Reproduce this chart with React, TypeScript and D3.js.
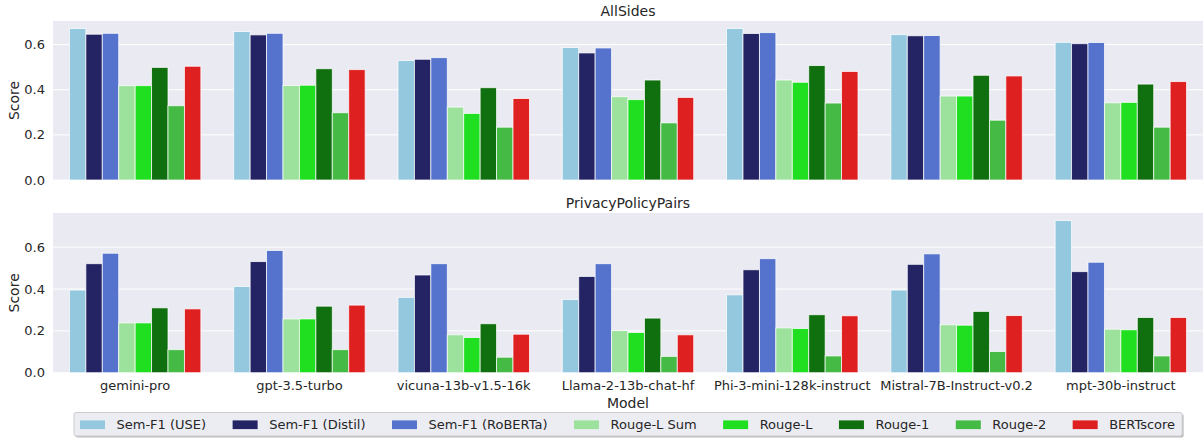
import React, { useEffect, useRef } from "react";
import * as d3 from "d3";

const WIDTH = 1203;
const HEIGHT = 439;

const models = [
  "gemini-pro",
  "gpt-3.5-turbo",
  "vicuna-13b-v1.5-16k",
  "Llama-2-13b-chat-hf",
  "Phi-3-mini-128k-instruct",
  "Mistral-7B-Instruct-v0.2",
  "mpt-30b-instruct",
];

const metrics = [
  "Sem-F1 (USE)",
  "Sem-F1 (Distil)",
  "Sem-F1 (RoBERTa)",
  "Rouge-L Sum",
  "Rouge-L",
  "Rouge-1",
  "Rouge-2",
  "BERTscore",
];

const metricColors = [
  "#93c8de",
  "#242465",
  "#5573cd",
  "#9ce29c",
  "#20df20",
  "#107010",
  "#45ba45",
  "#df2020",
];

// rows: models, columns: metrics
const allSides = [
  [0.671, 0.646, 0.65, 0.418, 0.418, 0.499, 0.329, 0.504],
  [0.658, 0.643, 0.65, 0.419, 0.42, 0.493, 0.298, 0.489],
  [0.529, 0.535, 0.542, 0.323, 0.295, 0.409, 0.234, 0.361],
  [0.587, 0.563, 0.585, 0.369, 0.356, 0.443, 0.253, 0.366],
  [0.671, 0.649, 0.653, 0.443, 0.433, 0.507, 0.341, 0.481],
  [0.644, 0.639, 0.64, 0.372, 0.372, 0.464, 0.265, 0.461],
  [0.61, 0.604, 0.609, 0.342, 0.344, 0.425, 0.234, 0.436],
];

const privacyPolicyPairs = [
  [0.395, 0.521, 0.571, 0.238, 0.238, 0.31, 0.11, 0.305],
  [0.412, 0.531, 0.584, 0.257, 0.257, 0.318, 0.11, 0.323],
  [0.36, 0.467, 0.521, 0.181, 0.168, 0.234, 0.074, 0.184],
  [0.35, 0.46, 0.521, 0.201, 0.192, 0.261, 0.078, 0.181],
  [0.372, 0.492, 0.545, 0.214, 0.211, 0.277, 0.08, 0.272],
  [0.395, 0.518, 0.568, 0.229, 0.227, 0.293, 0.101, 0.273],
  [0.727, 0.483, 0.528, 0.208, 0.205, 0.264, 0.08, 0.264],
];

const yTicks = [0.0, 0.2, 0.4, 0.6];

const FONT = "DejaVu Sans, sans-serif";
const TEXT = "#262626";
const BG = "#eaeaf2";

export default function App() {
  const ref = useRef<SVGSVGElement>(null);

  useEffect(() => {
    const svg = d3.select(ref.current);
    svg.selectAll("*").remove();

    const left = 53;
    const right = WIDTH;

    const x0 = d3
      .scaleBand<string>()
      .domain(models)
      .range([left, right])
      .paddingInner(0)
      .paddingOuter(0);
    const inner = d3
      .scaleBand<string>()
      .domain(metrics)
      .range([0, x0.bandwidth() * 0.8]);

    const panels = [
      { title: "AllSides", data: allSides, top: 21, bottom: 180, titleY: 16, showX: false },
      { title: "PrivacyPolicyPairs", data: privacyPolicyPairs, top: 213, bottom: 372.7, titleY: 207.5, showX: true },
    ];

    panels.forEach((p) => {
      const maxV = d3.max(p.data.flat()) as number;
      const y = d3.scaleLinear().domain([0, maxV * 1.05]).range([p.bottom, p.top]);
      const g = svg.append("g");

      g.append("rect")
        .attr("x", left)
        .attr("y", p.top)
        .attr("width", right - left)
        .attr("height", p.bottom - p.top)
        .attr("fill", BG);

      g.selectAll("line.grid")
        .data(yTicks)
        .join("line")
        .attr("x1", left)
        .attr("x2", right)
        .attr("y1", (d) => y(d))
        .attr("y2", (d) => y(d))
        .attr("stroke", "#ffffff")
        .attr("stroke-width", 1);

      g.selectAll("text.ytick")
        .data(yTicks)
        .join("text")
        .attr("x", left - 8)
        .attr("y", (d) => y(d))
        .attr("dy", "0.35em")
        .attr("text-anchor", "end")
        .attr("font-family", FONT)
        .attr("font-size", 13)
        .attr("fill", TEXT)
        .text((d) => d3.format(".1f")(d));

      g.append("text")
        .attr("transform", `translate(19,${(p.top + p.bottom) / 2}) rotate(-90)`)
        .attr("text-anchor", "middle")
        .attr("font-family", FONT)
        .attr("font-size", 14)
        .attr("fill", TEXT)
        .text("Score");

      g.append("text")
        .attr("x", (left + right) / 2)
        .attr("y", p.titleY)
        .attr("text-anchor", "middle")
        .attr("font-family", FONT)
        .attr("font-size", 14)
        .attr("fill", TEXT)
        .text(p.title);

      models.forEach((m, mi) => {
        const gx = (x0(m) as number) + x0.bandwidth() * 0.1;
        g.selectAll(`rect.bar-${mi}`)
          .data(p.data[mi])
          .join("rect")
          .attr("x", (_, i) => gx + (inner(metrics[i]) as number))
          .attr("y", (d) => y(d))
          .attr("width", inner.bandwidth())
          .attr("height", (d) => y(0) - y(d))
          .attr("fill", (_, i) => metricColors[i])
          .attr("stroke", "#ffffff")
          .attr("stroke-opacity", 0.8)
          .attr("stroke-width", 0.9);
      });

      if (p.showX) {
        g.selectAll("text.xtick")
          .data(models)
          .join("text")
          .attr("x", (d) => (x0(d) as number) + x0.bandwidth() / 2)
          .attr("y", p.bottom + 17)
          .attr("text-anchor", "middle")
          .attr("font-family", FONT)
          .attr("font-size", 13)
          .attr("fill", TEXT)
          .text((d) => d);

        g.append("text")
          .attr("x", (left + right) / 2)
          .attr("y", p.bottom + 35)
          .attr("text-anchor", "middle")
          .attr("font-family", FONT)
          .attr("font-size", 14)
          .attr("fill", TEXT)
          .text("Model");
      }
    });

    // legend in a single row below the plots
    const lg = svg.append("g");
    const boxX = 74;
    const boxY = 412.5;
    const boxH = 23.5;
    const shadow = lg.append("rect");
    const box = lg.append("rect");
    const patchW = 25;
    const patchH = 8.7;
    const textGap = 11.5;
    const entryGap = 26.5;
    let cx = boxX + 6;
    metrics.forEach((name, i) => {
      lg.append("rect")
        .attr("x", cx)
        .attr("y", boxY + boxH / 2 - patchH / 2 + 0.5)
        .attr("width", patchW)
        .attr("height", patchH)
        .attr("fill", metricColors[i]);
      const t = lg
        .append("text")
        .attr("x", cx + patchW + textGap)
        .attr("y", boxY + boxH / 2 + 0.5)
        .attr("dy", "0.35em")
        .attr("font-family", FONT)
        .attr("font-size", 13)
        .attr("fill", TEXT)
        .text(name);
      const w = (t.node() as SVGTextElement).getComputedTextLength();
      cx += patchW + textGap + w + entryGap;
    });
    const boxW = cx - entryGap + 7 - boxX;
    shadow
      .attr("x", boxX + 1.5)
      .attr("y", boxY + 1.5)
      .attr("width", boxW)
      .attr("height", boxH)
      .attr("rx", 2)
      .attr("fill", "#8f8f8f")
      .attr("opacity", 0.6);
    box
      .attr("x", boxX)
      .attr("y", boxY)
      .attr("width", boxW)
      .attr("height", boxH)
      .attr("rx", 2)
      .attr("fill", "#ececf3")
      .attr("stroke", "#cccccc")
      .attr("stroke-width", 1);
  }, []);

  return (
    <svg
      ref={ref}
      width={WIDTH}
      height={HEIGHT}
      style={{ position: "absolute", left: 0, top: 0, background: "#ffffff" }}
    />
  );
}
